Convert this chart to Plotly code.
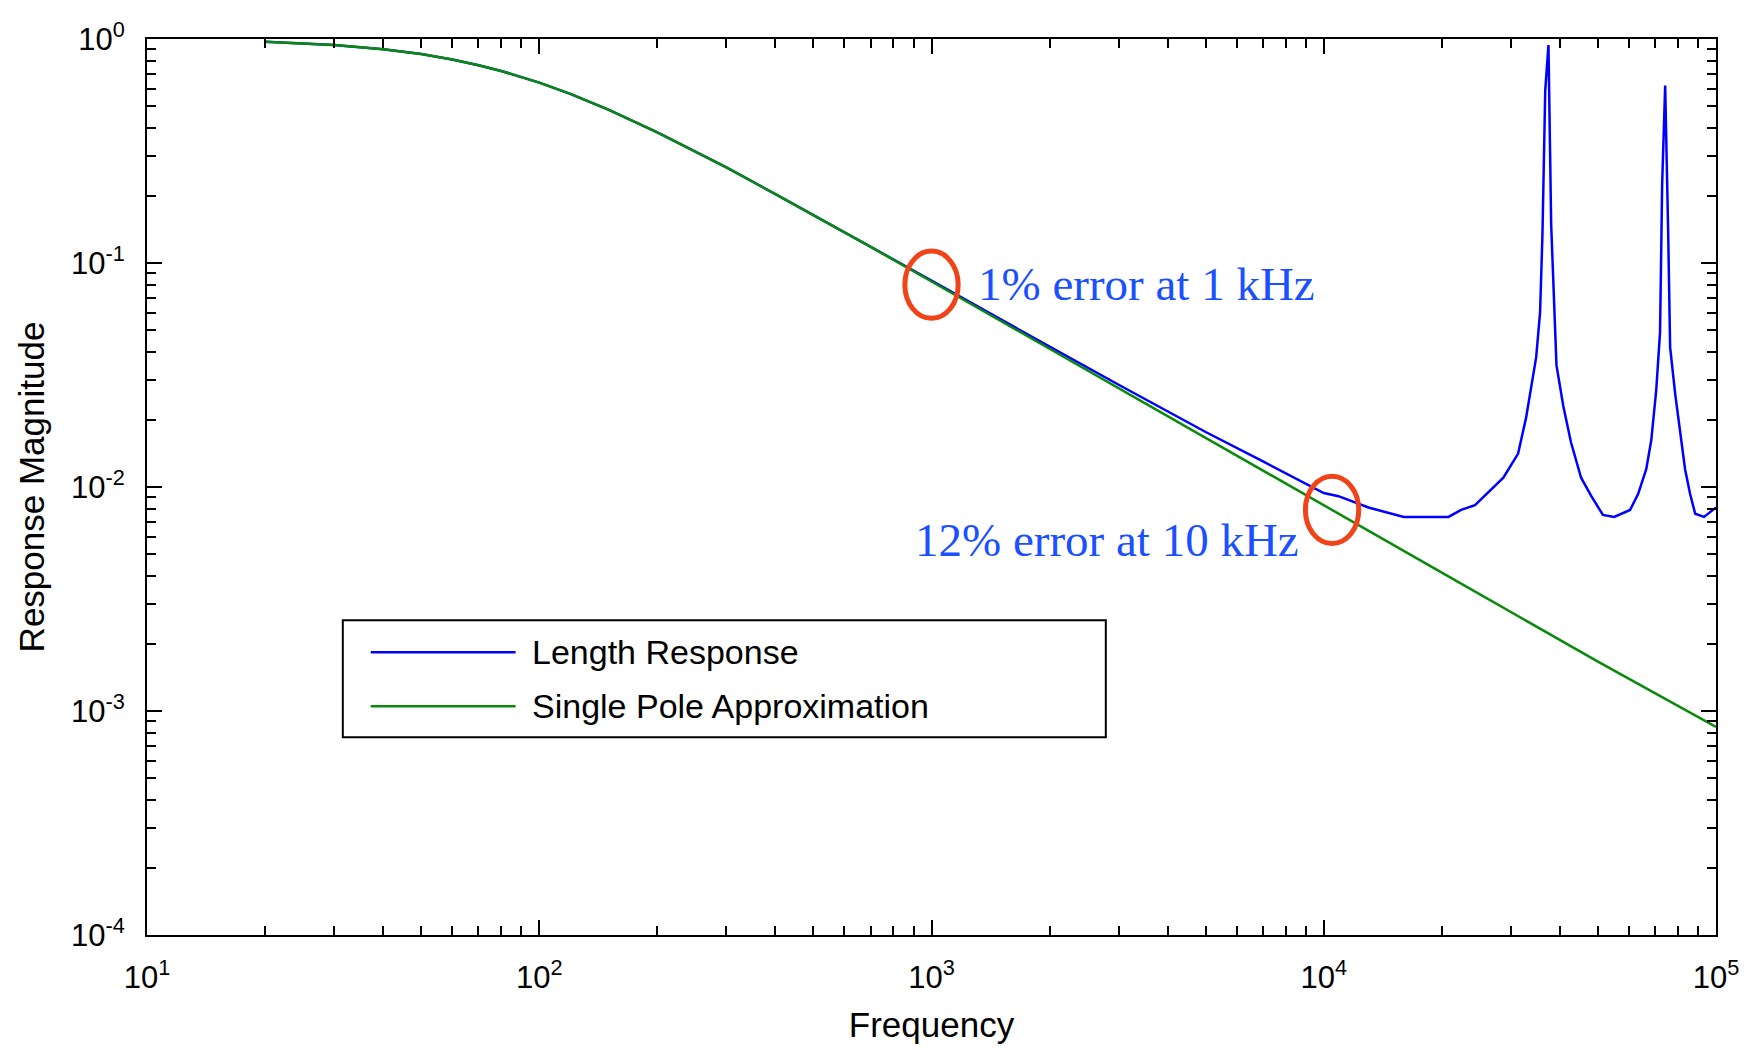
import math
import plotly.graph_objects as go

# ---- data ----
freq_pole = [20, 25, 30, 40, 50, 60, 70, 80, 100, 120, 150, 200, 250, 300, 400, 500, 700,
             1000, 1500, 2000, 3000, 5000, 7000, 10000, 20000, 50000, 100000]
mag_pole = [0.972, 0.957, 0.940, 0.901, 0.857, 0.810, 0.764, 0.720, 0.639, 0.569, 0.484, 0.383,
            0.315, 0.267, 0.203, 0.164, 0.118, 0.0827, 0.0552, 0.0415, 0.0277, 0.0166, 0.01186,
            0.0083, 0.00415, 0.00166, 0.00085]

freq_len = [20, 25, 30, 40, 50, 60, 70, 80, 100, 120, 150, 200, 250, 300, 400, 500, 700,
            1000, 1500, 2000, 3000, 5000, 7000, 10000, 10900, 13000, 16000, 20800, 22400, 24300,
            28700, 31300, 32800, 33800, 34800, 35600, 36100, 36700, 37400, 38000, 38700, 39200,
            40800, 42700, 45300, 48100, 51500, 55000, 60400, 63300, 66400, 68400, 70400, 72000,
            72900, 74200, 75500, 76400, 78700, 81000, 83400, 85900, 88500, 93200, 100000]
mag_len = [0.972, 0.957, 0.940, 0.901, 0.857, 0.810, 0.764, 0.720, 0.639, 0.569, 0.484, 0.383,
           0.315, 0.267, 0.203, 0.164, 0.118, 0.0835, 0.0560, 0.0423, 0.0286, 0.0176, 0.0130,
           0.0094, 0.0091, 0.0081, 0.00735, 0.00735, 0.0079, 0.0083,
           0.0110, 0.0141, 0.0204, 0.0282, 0.038, 0.060, 0.133, 0.59, 0.94, 0.149, 0.066, 0.035,
           0.023, 0.0158, 0.0110, 0.0091, 0.0075, 0.00735, 0.0079, 0.0093, 0.0120, 0.0162, 0.027,
           0.049, 0.224, 0.62, 0.141, 0.042, 0.026, 0.0174, 0.0120, 0.0093, 0.0076, 0.00735, 0.0081]

x_tickvals = [10, 100, 1000, 10000, 100000]
x_ticktext = ["10<sup>1</sup>", "10<sup>2</sup>", "10<sup>3</sup>", "10<sup>4</sup>", "10<sup>5</sup>"]
y_tickvals = [1e-4, 1e-3, 1e-2, 1e-1, 1]
y_ticktext = ["10<sup>-4</sup>", "10<sup>-3</sup>", "10<sup>-2</sup>", "10<sup>-1</sup>", "10<sup>0</sup>"]

series_names = ["Length Response", "Single Pole Approximation"]
note_texts = ["1% error at 1 kHz", "12% error at 10 kHz"]
note_freqs = [1000, 10500]
note_mags = [0.080, 0.0079]

BLUE = "#0000ff"
GREEN = "#0a8a0a"
NOTE = "#1a50ff"
RING = "#f04418"
SANS = "Liberation Sans, Arial, sans-serif"
SERIF = "Liberation Serif, Times New Roman, serif"

minor_x = [m * 10 ** e for e in range(1, 5) for m in range(2, 10)]
minor_y = [m * 10.0 ** e for e in range(-4, 0) for m in range(2, 10)]

fig = go.Figure()
fig.add_trace(go.Scatter(x=freq_len, y=mag_len, mode="lines", name=series_names[0],
                         line=dict(color=BLUE, width=2.5), showlegend=False))
fig.add_trace(go.Scatter(x=freq_pole, y=mag_pole, mode="lines", name=series_names[1],
                         line=dict(color=GREEN, width=2.5), showlegend=False))

axis_common = dict(type="log", showgrid=False, zeroline=False, showline=True,
                   linecolor="black", linewidth=2, mirror="allticks",
                   ticks="inside", ticklen=15, tickwidth=2, tickcolor="black",
                   tickfont=dict(family=SANS, size=31, color="black"))

fig.update_xaxes(range=[1, 5], tickmode="array", tickvals=x_tickvals, ticktext=x_ticktext,
                 minor=dict(tickmode="array", tickvals=minor_x, ticks="inside", ticklen=9,
                            tickwidth=2, tickcolor="black", showgrid=False),
                 ticklabelstandoff=14,
                 title=dict(text="Frequency", font=dict(family=SANS, size=35, color="black"),
                            standoff=18),
                 **axis_common)
fig.update_yaxes(range=[-4, 0], tickmode="array", tickvals=y_tickvals, ticktext=y_ticktext,
                 minor=dict(tickmode="array", tickvals=minor_y, ticks="inside", ticklen=9,
                            tickwidth=2, tickcolor="black", showgrid=False),
                 ticklabelstandoff=14,
                 title=dict(text="Response Magnitude", font=dict(family=SANS, size=35, color="black"),
                            standoff=16),
                 **axis_common)

# red ellipses around the two error points (half-extents in decades)
hx, hy = 0.068, 0.15
for f, m in zip(note_freqs, note_mags):
    fig.add_shape(type="circle", xref="x", yref="y",
                  x0=f * 10 ** -hx, x1=f * 10 ** hx, y0=m * 10 ** -hy, y1=m * 10 ** hy,
                  line=dict(color=RING, width=5), fillcolor="rgba(0,0,0,0)", layer="above")

fig.add_annotation(x=math.log10(1300), y=math.log10(0.081), xref="x", yref="y",
                   text=note_texts[0], showarrow=False, xanchor="left", yanchor="middle",
                   font=dict(family=SERIF, size=47, color=NOTE))
fig.add_annotation(x=math.log10(8750), y=math.log10(0.0058), xref="x", yref="y",
                   text=note_texts[1], showarrow=False, xanchor="right", yanchor="middle",
                   font=dict(family=SERIF, size=47, color=NOTE))

# legend box drawn in paper coordinates
fig.add_shape(type="rect", xref="paper", yref="paper", x0=0.1248, x1=0.6111, y0=0.2207, y1=0.3512,
              line=dict(color="black", width=2), fillcolor="white", layer="above")
for name, col, yy in zip(series_names, [BLUE, GREEN], [0.3155, 0.2553]):
    fig.add_shape(type="line", xref="paper", yref="paper", x0=0.1426, x1=0.2349, y0=yy, y1=yy,
                  line=dict(color=col, width=2.5), layer="above")
    fig.add_annotation(x=0.2440, y=yy, xref="paper", yref="paper", text=name, showarrow=False,
                       xanchor="left", yanchor="middle",
                       font=dict(family=SANS, size=34, color="black"))

fig.update_layout(width=1751, height=1050, paper_bgcolor="white", plot_bgcolor="white",
                  margin=dict(l=147, r=33, t=39, b=114, pad=0), showlegend=False)

fig.write_html("out.html")
